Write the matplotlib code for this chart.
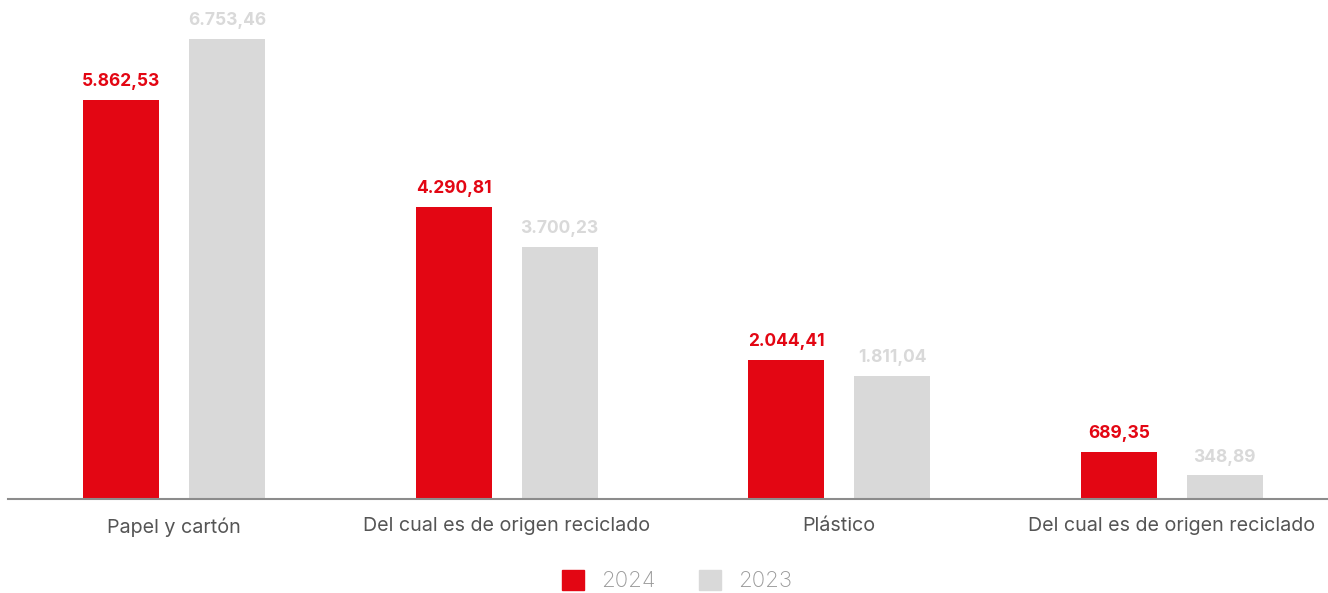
import numpy as np
import matplotlib.pyplot as plt
from matplotlib.patches import Patch

categories = ["Papel y cartón", "Del cual es de origen reciclado",
              "Plástico", "Del cual es de origen reciclado"]
values_2024 = [5862.53, 4290.81, 2044.41, 689.35]
values_2023 = [6753.46, 3700.23, 1811.04, 348.89]
labels_2024 = ["5.862,53", "4.290,81", "2.044,41", "689,35"]
labels_2023 = ["6.753,46", "3.700,23", "1.811,04", "348,89"]

RED = "#E30613"
GREY = "#D9D9D9"

plt.rcParams["font.family"] = ["Inter", "DejaVu Sans"]

fig = plt.figure(figsize=(13.28, 5.93), dpi=100)
ax = fig.add_axes([0.006, 0.1585, 0.994, 0.8415])

x = np.arange(len(categories))
w = 0.2286
off = 0.159
bars_a = ax.bar(x - off, values_2024, w, color=RED)
bars_b = ax.bar(x + off, values_2023, w, color=GREY)

for b, lab in zip(bars_a, labels_2024):
    ax.annotate(lab, (b.get_x() + b.get_width() / 2, b.get_height()),
                xytext=(0, 7), textcoords="offset points", ha="center",
                va="bottom", color=RED, fontsize=12.5, fontweight="bold")
for b, lab in zip(bars_b, labels_2023):
    ax.annotate(lab, (b.get_x() + b.get_width() / 2, b.get_height()),
                xytext=(0, 7), textcoords="offset points", ha="center",
                va="bottom", color=GREY, fontsize=12.5, fontweight="bold")

ax.set_xlim(-0.499, 3.469)
ax.set_ylim(0, 7326)
ax.set_xticks(x)
ax.set_xticklabels(categories, fontsize=14.2, color="#555555")
ax.tick_params(axis="x", length=0, pad=13)
ax.set_yticks([])
for s in ["top", "right", "left"]:
    ax.spines[s].set_visible(False)
ax.spines["bottom"].set_color("#8c8c8c")
ax.spines["bottom"].set_linewidth(1.5)

handles = [Patch(color=RED, label="2024"), Patch(color=GREY, label="2023")]
fig.legend(handles=handles, loc="lower center", bbox_to_anchor=(0.51, -0.012),
           ncol=2, frameon=False, labelcolor="#999999",
           prop={"size": 16, "weight": "light"},
           handlelength=1.0, handleheight=1.0, columnspacing=1.95,
           handletextpad=0.77, borderaxespad=0)

fig.savefig("out.png", dpi=100)
